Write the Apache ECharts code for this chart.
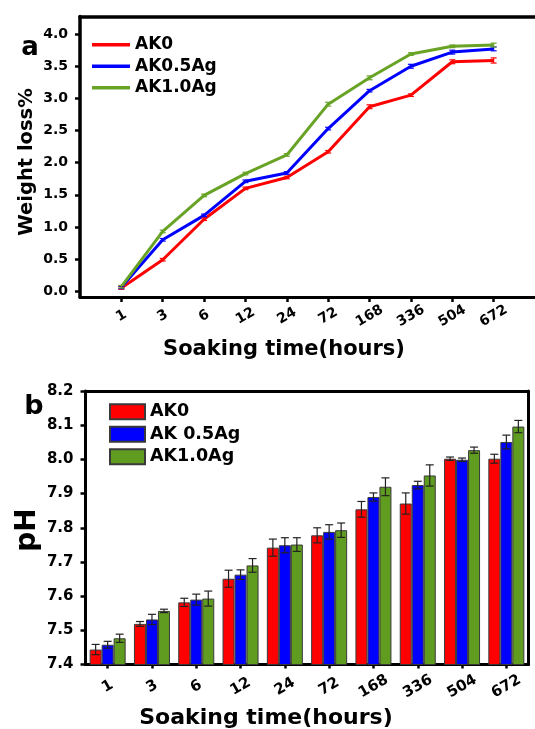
<!DOCTYPE html>
<html>
<head>
<meta charset="utf-8">
<script src="https://cdn.jsdelivr.net/npm/echarts@6/dist/echarts.min.js"></script>
<style>
html, body { margin: 0; padding: 0; background: #fff; }
#wrap { position: relative; width: 535px; height: 729px; overflow: hidden; }
#chartA { position: absolute; left: 0; top: 0; width: 535px; height: 370px; }
#chartB { position: absolute; left: 0; top: 360px; width: 535px; height: 369px; }
</style>
</head>
<body>
<div id="wrap"><div id="chartA"></div><div id="chartB"></div></div>
<script>
// soaking time categories (hours)
var hours = ['1', '3', '6', '12', '24', '72', '168', '336', '504', '672'];
var seriesNamesA = ['AK0', 'AK0.5Ag', 'AK1.0Ag'];
var seriesNamesB = ['AK0', 'AK 0.5Ag', 'AK1.0Ag'];

// (a) weight loss %
var lossAK0 = [0.05, 0.49, 1.12, 1.60, 1.77, 2.17, 2.87, 3.05, 3.57, 3.59];
var lossAK05 = [0.06, 0.80, 1.18, 1.71, 1.84, 2.53, 3.12, 3.50, 3.72, 3.77];
var lossAK10 = [0.07, 0.93, 1.49, 1.83, 2.12, 2.91, 3.32, 3.69, 3.81, 3.83];
var lossErrAK0 = [0.02, 0.02, 0.02, 0.02, 0.02, 0.02, 0.03, 0.02, 0.03, 0.04];
var lossErrAK05 = [0.02, 0.02, 0.02, 0.02, 0.02, 0.02, 0.02, 0.03, 0.03, 0.03];
var lossErrAK10 = [0.02, 0.02, 0.02, 0.02, 0.02, 0.03, 0.03, 0.02, 0.02, 0.03];
var lossTicks = [0, 0.5, 1.0, 1.5, 2.0, 2.5, 3.0, 3.5, 4.0];

// (b) pH
var phAK0 = [7.444, 7.519, 7.582, 7.651, 7.742, 7.778, 7.854, 7.871, 8.002, 8.002];
var phAK05 = [7.458, 7.532, 7.590, 7.663, 7.749, 7.788, 7.890, 7.925, 7.999, 8.051];
var phAK10 = [7.477, 7.557, 7.593, 7.690, 7.751, 7.793, 7.920, 7.953, 8.027, 8.096];
var phErrAK0 = [0.015, 0.007, 0.012, 0.025, 0.025, 0.022, 0.023, 0.031, 0.005, 0.013];
var phErrAK05 = [0.010, 0.015, 0.016, 0.014, 0.022, 0.021, 0.012, 0.011, 0.005, 0.020];
var phErrAK10 = [0.012, 0.005, 0.022, 0.020, 0.020, 0.021, 0.026, 0.031, 0.009, 0.018];

var FONT = 'DejaVu Sans';
var lineColors = ['#ff0000', '#0000ff', '#68a326'];
var barColors = ['#ff0000', '#0000ff', '#5f9c1f'];

var xIdx = hours.map(function (h, i) { return i + 1; });

function pairs(vals) {
    return vals.map(function (v, i) { return [i + 1, v]; });
}
function errData(vals, errs, first) {
    return vals.map(function (v, i) { return [i + first, v - errs[i], v + errs[i]]; });
}

// error bar for the line chart
function lineErr(color) {
    return function (params, api) {
        var x = api.value(0);
        var lo = api.coord([x, api.value(1)]);
        var hi = api.coord([x, api.value(2)]);
        var c = 3;
        var st = { stroke: color, lineWidth: 1.2 };
        return {
            type: 'group',
            children: [
                { type: 'line', shape: { x1: lo[0], y1: lo[1], x2: hi[0], y2: hi[1] }, style: st },
                { type: 'line', shape: { x1: lo[0] - c, y1: lo[1], x2: lo[0] + c, y2: lo[1] }, style: st },
                { type: 'line', shape: { x1: hi[0] - c, y1: hi[1], x2: hi[0] + c, y2: hi[1] }, style: st }
            ]
        };
    };
}

// error bar for the bar chart, k = bar position in group
function barErr(k) {
    return function (params, api) {
        var x = api.value(0);
        var lo = api.coord([x, api.value(1)]);
        var hi = api.coord([x, api.value(2)]);
        var dx = (k - 1) * 12;
        var px = lo[0] + dx;
        var c = 4;
        var st = { stroke: '#222', lineWidth: 1.2 };
        return {
            type: 'group',
            children: [
                { type: 'line', shape: { x1: px, y1: lo[1], x2: px, y2: hi[1] }, style: st },
                { type: 'line', shape: { x1: px - c, y1: lo[1], x2: px + c, y2: lo[1] }, style: st },
                { type: 'line', shape: { x1: px - c, y1: hi[1], x2: px + c, y2: hi[1] }, style: st }
            ]
        };
    };
}

var labelStyle = { fontFamily: FONT, fontWeight: 'bold', color: '#000' };

// ---------- chart a ----------
var chartA = echarts.init(document.getElementById('chartA'));
var lossSets = [lossAK0, lossAK05, lossAK10];
var lossErrs = [lossErrAK0, lossErrAK05, lossErrAK10];
var seriesA = [];
for (var i = 0; i < 3; i++) {
    seriesA.push({
        name: seriesNamesA[i],
        type: 'line',
        data: pairs(lossSets[i]),
        showSymbol: false,
        symbol: 'none',
        lineStyle: { color: lineColors[i], width: 3 },
        itemStyle: { color: lineColors[i] },
        z: 2
    });
}
for (var i = 0; i < 3; i++) {
    seriesA.push({
        name: 'errA' + i,
        type: 'custom',
        renderItem: lineErr(lineColors[i]),
        data: errData(lossSets[i], lossErrs[i], 1),
        encode: { x: 0, y: [1, 2] },
        z: 3,
        silent: true
    });
}

chartA.setOption({
    animation: false,
    grid: { left: 80, top: 16.5, right: 0, height: 280.5 },
    legend: {
        orient: 'vertical', left: 87, top: 29,
        icon: 'rect', itemWidth: 38, itemHeight: 3.5, itemGap: 0,
        textStyle: { fontFamily: FONT, fontWeight: 'bold', fontSize: 17, lineHeight: 21.5, color: '#000' },
        data: seriesNamesA
    },
    xAxis: [
        {
            type: 'value', min: 0, max: 11,
            axisLine: { onZero: false, lineStyle: { color: '#000', width: 3 } },
            axisTick: { show: true, length: 5, lineStyle: { color: '#000', width: 2.5 }, customValues: xIdx },
            axisLabel: Object.assign({
                customValues: xIdx, fontSize: 14, rotate: 30, align: 'center', verticalAlign: 'middle', margin: 19,
                formatter: function (v) { return hours[Math.round(v) - 1] || ''; }
            }, labelStyle),
            splitLine: { show: false }
        },
        {
            type: 'value', position: 'top', min: 0, max: 11,
            axisLine: { show: true, onZero: false, lineStyle: { color: '#000', width: 3.5 } },
            axisTick: { show: false }, axisLabel: { show: false }, splitLine: { show: false }
        }
    ],
    yAxis: {
        type: 'value', min: -0.09, max: 4.274,
        axisLine: { show: true, onZero: false, lineStyle: { color: '#000', width: 3.5 } },
        axisTick: { show: true, length: 5, lineStyle: { color: '#000', width: 2.5 }, customValues: lossTicks },
        axisLabel: Object.assign({
            customValues: lossTicks, fontSize: 14, margin: 12,
            formatter: function (v) { return v.toFixed(1); }
        }, labelStyle),
        splitLine: { show: false }
    },
    graphic: [
        { type: 'text', x: 30, y: 48, style: { text: 'a', font: 'bold 26px "DejaVu Sans"', fill: '#000', align: 'center', verticalAlign: 'middle' } },
        { type: 'text', x: 27, y: 162, rotation: Math.PI / 2, style: { text: 'Weight loss%', font: 'bold 19.5px "DejaVu Sans"', fill: '#000', align: 'center', verticalAlign: 'middle' } },
        { type: 'text', x: 284, y: 350, style: { text: 'Soaking time(hours)', font: 'bold 21px "DejaVu Sans"', fill: '#000', align: 'center', verticalAlign: 'middle' } }
    ],
    series: seriesA
});

// ---------- chart b ----------
var chartB = echarts.init(document.getElementById('chartB'));
var phSets = [phAK0, phAK05, phAK10];
var phErrs = [phErrAK0, phErrAK05, phErrAK10];
var seriesB = [];
for (var i = 0; i < 3; i++) {
    seriesB.push({
        name: seriesNamesB[i],
        type: 'bar',
        data: phSets[i],
        barWidth: 12,
        barGap: '0%',
        itemStyle: { color: barColors[i], borderColor: '#3a3a3a', borderWidth: 1 },
        z: 2
    });
}
for (var i = 0; i < 3; i++) {
    seriesB.push({
        name: 'errB' + i,
        type: 'custom',
        renderItem: barErr(i),
        data: errData(phSets[i], phErrs[i], 0),
        encode: { x: 0, y: [1, 2] },
        z: 3,
        silent: true
    });
}

chartB.setOption({
    animation: false,
    grid: { left: 85.5, top: 31, right: 6.5, height: 273.6 },
    legend: {
        orient: 'vertical', left: 104, top: 35.5,
        icon: 'rect', itemWidth: 35, itemHeight: 15, itemGap: 0,
        textStyle: { fontFamily: FONT, fontWeight: 'bold', fontSize: 17.5, lineHeight: 22.5, color: '#000' },
        data: seriesNamesB
    },
    xAxis: [
        {
            type: 'category', data: hours,
            axisLine: { lineStyle: { color: '#000', width: 3 } },
            axisTick: { show: true, alignWithLabel: true, length: 4, lineStyle: { color: '#000', width: 2.5 } },
            axisLabel: Object.assign({ interval: 0, fontSize: 15, rotate: 30, align: 'center', verticalAlign: 'middle', margin: 22 }, labelStyle),
            splitLine: { show: false }
        },
        {
            type: 'category', data: hours, position: 'top',
            axisLine: { show: true, lineStyle: { color: '#000', width: 3 } },
            axisTick: { show: false }, axisLabel: { show: false }, splitLine: { show: false }
        }
    ],
    yAxis: [
        {
            type: 'value', min: 7.4, max: 8.2, interval: 0.1,
            axisLine: { show: true, lineStyle: { color: '#000', width: 3 } },
            axisTick: { show: true, length: 5, lineStyle: { color: '#000', width: 2.5 } },
            axisLabel: Object.assign({ fontSize: 15, margin: 12, formatter: function (v) { return v.toFixed(1); } }, labelStyle),
            splitLine: { show: false }
        },
        {
            type: 'value', position: 'right', min: 7.4, max: 8.2,
            axisLine: { show: true, lineStyle: { color: '#000', width: 3 } },
            axisTick: { show: false }, axisLabel: { show: false }, splitLine: { show: false }
        }
    ],
    graphic: [
        { type: 'text', x: 34, y: 47, style: { text: 'b', font: 'bold 27px "DejaVu Sans"', fill: '#000', align: 'center', verticalAlign: 'middle' } },
        { type: 'text', x: 28, y: 170, rotation: Math.PI / 2, style: { text: 'pH', font: 'bold 28px "DejaVu Sans"', fill: '#000', align: 'center', verticalAlign: 'middle' } },
        { type: 'text', x: 266, y: 358, style: { text: 'Soaking time(hours)', font: 'bold 22px "DejaVu Sans"', fill: '#000', align: 'center', verticalAlign: 'middle' } }
    ],
    series: seriesB
});
</script>
</body>
</html>
